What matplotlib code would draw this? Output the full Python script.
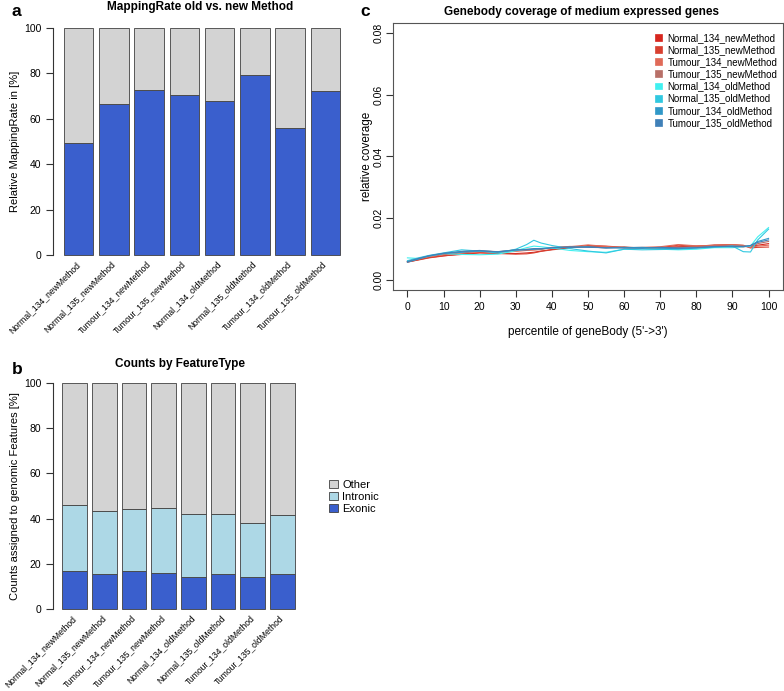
import matplotlib
matplotlib.use("Agg")
import matplotlib.pyplot as plt
import matplotlib.transforms as mtrans
import numpy as np
from matplotlib.patches import Rectangle

plt.rcParams['font.family'] = ['Liberation Sans', 'DejaVu Sans']

samples = ["Normal_134_newMethod", "Normal_135_newMethod", "Tumour_134_newMethod",
           "Tumour_135_newMethod", "Normal_134_oldMethod", "Normal_135_oldMethod",
           "Tumour_134_oldMethod", "Tumour_135_oldMethod"]

mapping_rate = [49.5, 66.5, 72.7, 70.5, 68.0, 79.3, 55.8, 72.2]

exonic = [17.0, 15.5, 16.7, 15.8, 14.0, 15.3, 14.0, 15.5]
intronic_cum = [45.8, 43.5, 44.3, 44.6, 42.0, 42.2, 38.2, 41.7]
intronic = [c - e for c, e in zip(intronic_cum, exonic)]
other = [100 - c for c in intronic_cum]

pct = [0, 3, 6, 10, 15, 20, 25, 30, 33, 35, 37, 40, 45, 50, 55, 60, 65, 70, 75, 80, 85, 90, 93, 95, 97, 100]
cov = {
    "Normal_134_newMethod": [5.8,6.6,7.3,7.9,8.3,8.8,8.7,8.6,8.8,9.0,9.4,9.9,10.5,10.9,10.7,10.5,10.4,10.6,10.8,11.0,11.2,11.0,10.8,11.0,11.3,11.8],
    "Normal_135_newMethod": [5.9,6.5,7.2,7.8,8.5,8.9,8.6,8.4,8.5,8.8,9.3,9.8,10.4,11.2,11.0,10.6,10.3,10.5,11.3,10.9,11.4,11.5,11.2,10.4,10.6,10.7],
    "Tumour_134_newMethod": [6.0,6.8,7.6,8.2,8.8,9.2,9.0,9.3,9.6,9.7,9.9,10.6,10.8,11.4,10.9,10.5,10.6,10.8,11.5,11.1,11.2,11.5,11.3,10.6,11.0,11.3],
    "Tumour_135_newMethod": [6.0,6.9,7.8,8.4,9.2,9.5,9.2,9.8,10.0,10.0,10.1,10.5,10.9,10.8,10.4,10.8,10.3,10.4,10.6,10.8,11.0,11.1,11.0,10.7,11.8,12.5],
    "Normal_134_oldMethod": [7.2,7.0,7.8,8.6,8.3,8.2,8.4,9.5,10.5,11.0,10.8,10.4,9.6,9.2,9.0,10.0,10.2,10.0,9.8,10.0,10.5,10.5,10.8,11.0,14.0,17.0],
    "Normal_135_oldMethod": [6.3,7.2,8.0,8.8,9.8,9.4,8.8,10.0,11.5,12.9,12.0,11.2,10.2,9.4,8.8,10.0,9.8,9.9,10.0,10.4,10.6,11.0,9.2,9.1,13.0,16.5],
    "Tumour_134_oldMethod": [5.8,6.8,7.8,8.6,9.0,9.4,9.2,9.7,9.8,10.0,10.1,10.4,10.6,10.8,10.4,10.5,10.6,10.3,10.2,10.4,10.8,11.0,10.9,11.2,12.5,13.5],
    "Tumour_135_oldMethod": [6.0,7.0,7.9,8.7,9.3,9.6,9.1,9.8,9.9,10.2,10.2,10.5,10.7,10.6,10.5,10.4,10.3,10.6,10.4,10.5,10.9,10.8,10.8,11.2,12.2,13.0],
}
line_colors = ["#d7261e", "#d84030", "#e06a58", "#b87068", "#40f0f0", "#30c8e0", "#3098c8", "#4080b8"]

W, H = 784, 691
fig = plt.figure(figsize=(W / 100, H / 100), dpi=100)

def ax_px(l, t, r, b):
    return fig.add_axes([l / W, 1 - b / H, (r - l) / W, (b - t) / H])

GREY = "#d3d3d3"
BLUE = "#3a5fcd"
LBLUE = "#add8e6"
EDGE = "#404040"
xpos = [0.7 + 1.2 * i for i in range(8)]
label_shift = mtrans.ScaledTranslation(-3 / 100, 7 / 100, fig.dpi_scale_trans)

def style_bar_axes(ax, left_px, right_px):
    ax.set_xlim(-0.176, 9.976)
    ax.set_ylim(-4, 104)
    for s in ["top", "right", "bottom"]:
        ax.spines[s].set_visible(False)
    ax.spines["left"].set_bounds(0, 100)
    ax.spines["left"].set_color("#333333")
    ax.spines["left"].set_linewidth(0.8)
    ax.set_yticks([0, 20, 40, 60, 80, 100])
    ax.tick_params(axis="y", direction="out", length=5, width=0.8, labelsize=7.5, colors="#333333", labelcolor="black")
    ax.set_xticks(xpos)
    ax.set_xticklabels(samples, rotation=45, ha="right", rotation_mode="anchor", fontsize=6.2)
    ax.tick_params(axis="x", length=0, pad=2)
    for lab in ax.get_xticklabels():
        lab.set_transform(lab.get_transform() + label_shift)
    ax.yaxis.set_label_coords((20 - left_px) / (right_px - left_px), 0.5)

# Panel a
axa = ax_px(53, 19, 351, 264)
axa.bar(xpos, mapping_rate, width=1.0, color=BLUE, edgecolor=EDGE, linewidth=0.6)
axa.bar(xpos, [100 - v for v in mapping_rate], bottom=mapping_rate, width=1.0, color=GREY, edgecolor=EDGE, linewidth=0.6)
axa.set_ylabel("Relative MappingRate in [%]", fontsize=8)
style_bar_axes(axa, 53, 351)
fig.text(200 / W, 1 - 7 / H, "MappingRate old vs. new Method", ha="center", va="center", fontsize=8.5, fontweight="bold")
fig.text(12 / W, 1 - 12 / H, "a", ha="left", va="center", fontsize=12.5, fontweight="bold")

# Panel b
axb = ax_px(53, 374, 304, 618)
axb.bar(xpos, exonic, width=1.0, color=BLUE, edgecolor=EDGE, linewidth=0.6, label="Exonic")
axb.bar(xpos, intronic, bottom=exonic, width=1.0, color=LBLUE, edgecolor=EDGE, linewidth=0.6, label="Intronic")
axb.bar(xpos, other, bottom=intronic_cum, width=1.0, color=GREY, edgecolor=EDGE, linewidth=0.6, label="Other")
axb.set_ylabel("Counts assigned to genomic Features [%]", fontsize=8)
style_bar_axes(axb, 53, 304)
fig.text(180 / W, 1 - 364 / H, "Counts by FeatureType", ha="center", va="center", fontsize=8.5, fontweight="bold")
fig.text(12 / W, 1 - 369 / H, "b", ha="left", va="center", fontsize=12.5, fontweight="bold")
handles, labels = axb.get_legend_handles_labels()
fig.legend(handles[::-1], labels[::-1], loc="center left", bbox_to_anchor=(325 / W, 1 - 497 / H),
           frameon=False, fontsize=8, handlelength=0.75, handleheight=0.75, handletextpad=0.4,
           labelspacing=0.2, borderaxespad=0)

# Panel c
axc = ax_px(393, 23, 783, 290)
for (name, vals), col in zip(cov.items(), line_colors):
    axc.plot(pct, [v / 1000 for v in vals], color=col, linewidth=0.8, label=name)
axc.set_xlim(-4, 104)
axc.set_ylim(-0.0032, 0.0832)
axc.set_xticks(range(0, 101, 10))
axc.set_yticks([0, 0.02, 0.04, 0.06, 0.08])
axc.set_yticklabels(["0.00", "0.02", "0.04", "0.06", "0.08"], rotation=90, va="center")
axc.tick_params(direction="out", length=5, width=0.8, labelsize=7.5, colors="#333333", labelcolor="black")
axc.tick_params(axis="y", pad=2)
for s in axc.spines.values():
    s.set_color("#555555")
    s.set_linewidth(0.8)
axc.set_xlabel("percentile of geneBody (5'->3')", fontsize=8.5, labelpad=10)
axc.set_ylabel("relative coverage", fontsize=8.5)
axc.yaxis.set_label_coords((373 - 393) / 390, 0.5)
fig.text(582 / W, 1 - 12 / H, "Genebody coverage of medium expressed genes", ha="center", va="center", fontsize=8.5, fontweight="bold")
fig.text(360 / W, 1 - 12 / H, "c", ha="left", va="center", fontsize=12.5, fontweight="bold")
lh = [Rectangle((0, 0), 1, 1, facecolor=c, edgecolor=c, linewidth=0.5) for c in line_colors]
axc.legend(lh, list(cov.keys()), loc="upper left", bbox_to_anchor=(651 / W, 1 - 29 / H),
           bbox_transform=fig.transFigure, frameon=False, fontsize=7.0,
           handlelength=0.7, handleheight=0.7, handletextpad=0.6, labelspacing=0.22, borderaxespad=0)

fig.savefig("out.png", dpi=100)
